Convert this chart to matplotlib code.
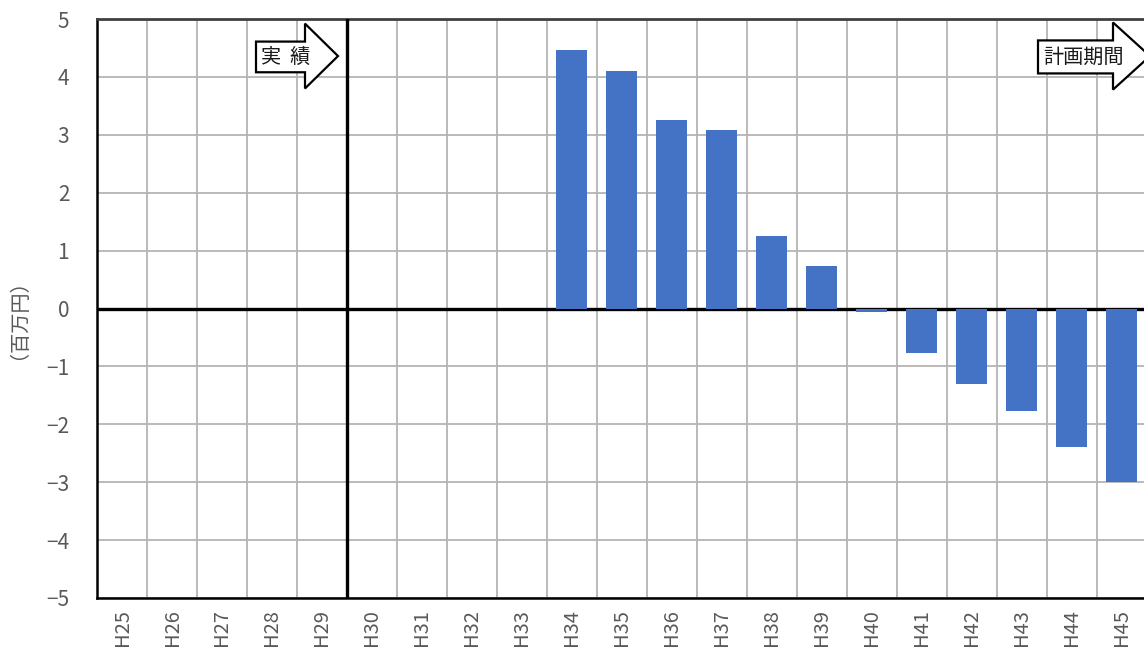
import matplotlib.pyplot as plt
from matplotlib.patches import Polygon
import numpy as np

plt.rcParams['font.family'] = ['Noto Sans CJK JP', 'DejaVu Sans']

years = ['H25', 'H26', 'H27', 'H28', 'H29', 'H30', 'H31', 'H32', 'H33', 'H34', 'H35',
         'H36', 'H37', 'H38', 'H39', 'H40', 'H41', 'H42', 'H43', 'H44', 'H45']
values = [0, 0, 0, 0, 0, 0, 0, 0, 0, 4.47, 4.11,
          3.25, 3.09, 1.26, 0.73, -0.06, -0.76, -1.31, -1.77, -2.40, -2.99]
yticks = [-5, -4, -3, -2, -1, 0, 1, 2, 3, 4, 5]

x = np.arange(len(years))

fig = plt.figure(figsize=(11.44, 6.52), dpi=100)
ax = fig.add_axes([97/1144, 54/652, 1050/1144, 579/652])

ax.bar(x, values, width=0.62, color='#4472C4', zorder=5)

ax.set_xlim(-0.5, len(years) - 0.5)
ax.set_ylim(-5, 5)

# grid at category borders and integer steps
ax.set_xticks(x)
ax.set_xticklabels(years, rotation=90, fontsize=14.5, color='#595959')
ax.set_xticks(np.arange(len(years) + 1) - 0.5, minor=True)
ax.set_yticks(yticks)
ax.set_yticklabels(['\u2212' + str(-v) if v < 0 else str(v) for v in yticks],
                   fontsize=15, color='#595959')
ax.grid(which='minor', axis='x', color='#b4b4b4', lw=1.3, zorder=1)
ax.grid(which='major', axis='y', color='#b4b4b4', lw=1.3, zorder=1)
ax.tick_params(which='both', length=0)
ax.tick_params(axis='y', pad=20)
ax.tick_params(axis='x', pad=8)

ax.set_ylabel('（百万円）', fontsize=14.5, color='#595959')
ax.yaxis.set_label_coords(-78/1050, 0.5)

for side in ['left', 'bottom']:
    ax.spines[side].set_color('#000000')
    ax.spines[side].set_linewidth(1.8)
ax.spines['top'].set_color('#404040')
ax.spines['top'].set_linewidth(2)
ax.spines['right'].set_visible(False)

# zero line and actual/plan divider
ax.axhline(0, color='black', lw=2.4, zorder=4)
ax.axvline(4.5, color='black', lw=2.4, zorder=4)


def arrow(x0, xh, xt, ytop, ybot, htop, hbot, label):
    yc = (htop + hbot) / 2
    pts = [(x0, ybot), (x0, ytop), (xh, ytop), (xh, htop), (xt, yc), (xh, hbot), (xh, ybot)]
    ax.add_patch(Polygon(pts, closed=True, facecolor='white', edgecolor='black',
                         lw=1.6, zorder=6, clip_on=False))
    ax.text(x0 + 0.1, (ytop + ybot) / 2, label, ha='left', va='center', fontsize=14.5,
            color='#1a1a1a', zorder=7)


arrow(2.68, 3.66, 4.32, 4.61, 4.08, 4.92, 3.80, '実  績')
arrow(18.32, 19.82, 20.56, 4.63, 4.06, 4.94, 3.78, '計画期間')

fig.savefig('out.png', dpi=100)
